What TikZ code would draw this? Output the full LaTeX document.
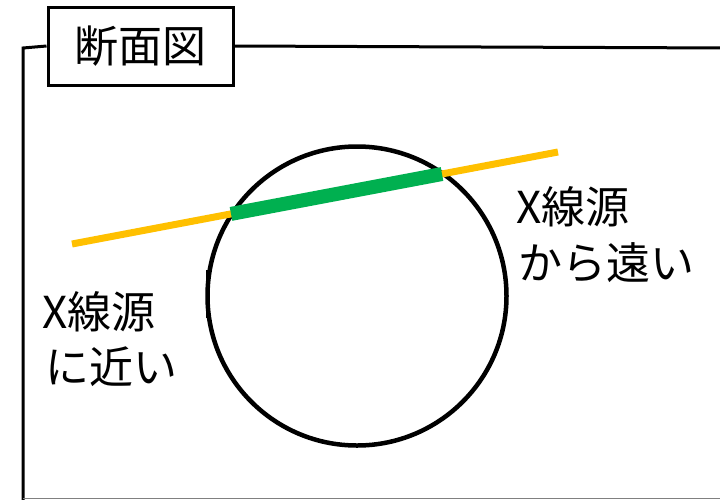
\documentclass[tikz,border=0pt]{standalone}
\usepackage{fontspec}
\newfontfamily\jpfont{Noto Sans CJK JP}
\definecolor{xorange}{HTML}{FFC000}
\definecolor{xgreen}{HTML}{00B050}
\begin{document}
\begin{tikzpicture}[x=1pt,y=-1pt,
  frameline/.style={line width=3pt,black},
  lbl/.style={font=\jpfont\fontsize{44}{50}\selectfont,inner sep=0pt,anchor=west},
  titlebox/.style={draw,line width=3pt,minimum width=185pt,minimum height=78pt,inner sep=0pt,font=\jpfont\fontsize{44}{50}\selectfont}]
\useasboundingbox (0,0) rectangle (720,499);
% frame
\node[titlebox] (title) at (140.5,46) {断面図};
\coordinate (fbl) at (23,510);
\coordinate (ftl) at (23,48);
\coordinate (ftr) at (730,48);
\draw[frameline] (fbl) -- (ftl) -- (title.west);
\draw[frameline] (title.east) -- (ftr);
\draw[gray,line width=1.2pt] (23,498.5) -- (720,498.5);
% circle
\node[circle,draw,line width=4.5pt,minimum size=299pt,inner sep=0pt] (c) at (357,296) {};
\coordinate (t1) at (207.5,270);
\coordinate (t2) at (207.5,318);
\draw[line width=2.5pt] (t1) -- (t2);
% lines
\coordinate (oa) at (72,244);
\coordinate (ob) at (558,152);
\coordinate (ga) at (231,213.9);
\coordinate (gb) at (442,174.0);
\draw[xorange,line width=7pt] (oa) -- (ob);
\draw[xgreen,line width=14pt] (ga) -- (gb);
% labels
\node[lbl] (n1) at (42,312) {X線源};
\node[lbl] (n2) at (45,367) {に近い};
\node[lbl] (f1) at (516,207) {X線源};
\node[lbl] (f2) at (518,263) {から遠い};
\end{tikzpicture}
\end{document}
